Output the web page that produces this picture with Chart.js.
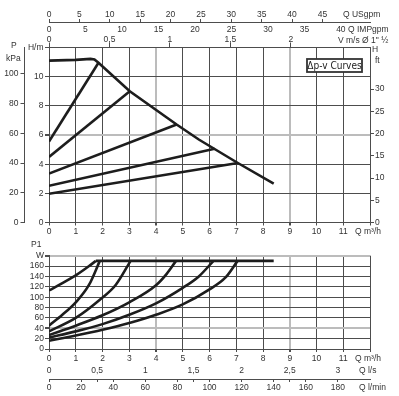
<!DOCTYPE html>
<html><head><meta charset="utf-8">
<script src="https://cdn.jsdelivr.net/npm/chart.js@4/dist/chart.umd.min.js"></script>
<style>
html,body{margin:0;padding:0;background:#fff;width:399px;height:396px;overflow:hidden}
#c1{position:absolute;left:0;top:0}
#c2{position:absolute;left:0;top:236px}
</style></head><body>
<canvas id="c1" width="399" height="240"></canvas>
<canvas id="c2" width="399" height="160"></canvas>
<script>
// ---------- tick labels ----------
const qTicks = [0,1,2,3,4,5,6,7,8,9,10,11,12];
const hTicks = [0,2,4,6,8,10,12];
const kpaTicks = [0,20,40,60,80,100];
const ftTicks = [0,5,10,15,20,25,30];
const usgpmTicks = [0,5,10,15,20,25,30,35,40,45];
const impgpmTicks = [0,5,10,15,20,25,30,35,40];
const velTicks = [0,0.5,1,1.5,2];
const wTicks = [0,20,40,60,80,100,120,140,160,180];
const lsTicks = [0,0.5,1,1.5,2,2.5,3];
const lminTicks = [0,20,30,40,60,80,90,100,120,140,150,160,180];
const lminLabelled = [0,20,40,60,80,100,120,140,160,180];

// ---------- head curves (Q m3/h, H m) ----------
const maxCurveQ = [0, 1.0, 1.55, 1.7, 1.85, 3.02, 4.77, 5.6, 7.06, 8.4];
const maxCurveH = [11.1, 11.15, 11.22, 11.18, 10.95, 9.0, 6.72, 5.69, 4.08, 2.66];
const dpvStartH = [5.55, 4.5, 3.35, 2.52, 1.97];
const dpvEndQ   = [1.85, 3.02, 4.77, 6.19, 7.06];
const dpvEndH   = [10.95, 9.0, 6.72, 5.05, 4.08];

// ---------- power curves (Q m3/h, P1 W) ----------
const pMaxQ = [1.75, 8.4];
const pMaxW = [170, 170];
const pAQ = [0, 0.5, 1.0, 1.5, 1.75];
const pAW = [113, 127, 142, 160, 170];
const pBQ = [0, 0.5, 1.0, 1.5, 1.9];
const pBW = [45, 66, 90, 124, 170];
const pCQ = [0, 1.0, 1.9, 2.5, 3.05];
const pCW = [34, 60, 95, 124, 170];
const pDQ = [0, 1, 2, 3, 4, 4.4, 4.75];
const pDW = [27, 45, 65, 90, 123, 145, 170];
const pEQ = [0, 1, 2, 3, 4, 5, 5.6, 6.15];
const pEW = [22, 34, 48, 66, 88, 118, 140, 170];
const pFQ = [0, 1, 2, 3, 4, 5, 6, 6.6, 7.05];
const pFW = [16, 26, 37, 50, 66, 86, 115, 138, 170];

// ---------- unit conversions ----------
const qMax = 12, hMax = 12, wMax = 180;
const usgpmPerM3h = 4.40287, impgpmPerM3h = 3.66615, velPerM3h = 1/4.52;
const kpaPerM = 9.80665, ftPerM = 3.28084, lsPerM3h = 1/3.6, lminPerM3h = 1000/60;

const FONT = "'Liberation Sans', Arial, sans-serif";
Chart.defaults.font.family = FONT;
Chart.defaults.font.size = 8.5;
Chart.defaults.font.lineHeight = 1.2;
Chart.defaults.color = '#333';

const dark = '#4d4d4d', light = '#bcbcbc', ink = '#1d1d1d';
const fixTicks = vals => s => { s.ticks = vals.map(v => ({value: v})); };
const fixW = w => s => { s.width = w; };
const fixH = h => s => { s.height = h; };
const fmt = v => String(v).replace('.', ',');
const pts = (xs, ys) => xs.map((x, i) => ({x, y: ys[i]}));
const line = (data, extra) => Object.assign({data, showLine: true, pointRadius: 0, borderColor: ink, borderWidth: 2.6, fill: false, tension: 0}, extra || {});
const base = {responsive: false, animation: false, events: [], plugins: {legend: {display: false}, tooltip: {enabled: false}}};

function texts(items, box) {
  return {id: 'texts' + Math.random(), afterDraw(chart) {
    const ctx = chart.ctx; ctx.save();
    ctx.fillStyle = '#333'; ctx.textBaseline = 'middle'; ctx.textAlign = 'left';
    if (box) {
      const a = chart.chartArea;
      const r = {x: a.right - 63, y: a.top + 11.5, w: 55, h: 13};
      ctx.fillStyle = '#fff'; ctx.fillRect(r.x, r.y, r.w, r.h);
      ctx.strokeStyle = '#333'; ctx.lineWidth = 1.8; ctx.strokeRect(r.x, r.y, r.w, r.h);
      ctx.fillStyle = '#222';
      ctx.font = "10px 'Liberation Sans Narrow', 'DejaVu Sans Condensed', sans-serif";
      ctx.textAlign = 'center'; ctx.fillText(box, r.x + r.w / 2, r.y + r.h / 2 + 0.5);
      ctx.textAlign = 'left'; ctx.fillStyle = '#333';
    }
    ctx.font = '8.5px ' + FONT;
    items.forEach(t => ctx.fillText(t[0], t[1], t[2]));
    ctx.restore();
  }};
}

// ================= TOP CHART =================
const headSets = [line(pts(maxCurveQ, maxCurveH))];
dpvStartH.forEach((h0, i) => headSets.push(line(pts([0, dpvEndQ[i]], [h0, dpvEndH[i]]))));

new Chart(document.getElementById('c1'), {
  type: 'scatter',
  data: {datasets: headSets},
  options: Object.assign({}, base, {
    layout: {padding: 0},
    scales: {
      x: {type: 'linear', position: 'bottom', min: 0, max: qMax,
        afterBuildTicks: fixTicks(qTicks), afterFit: fixH(17.5),
        grid: {color: c => (c.tick && (c.tick.value === 4 || c.tick.value === 9)) ? light : dark,
               lineWidth: c => (c.tick && (c.tick.value === 4 || c.tick.value === 9)) ? 2 : 1,
               tickColor: dark, tickLength: 3},
        border: {display: true, color: dark},
        ticks: {padding: 1.4, autoSkip: false, maxRotation: 0, callback: v => v === 12 ? '' : v}},
      vel: {type: 'linear', position: 'top', weight: 0, min: 0, max: qMax * velPerM3h,
        afterBuildTicks: fixTicks(velTicks), afterFit: fixH(12.5),
        grid: {drawOnChartArea: false, tickLength: 5, color: dark},
        border: {display: false},
        ticks: {padding: -2.4, autoSkip: false, maxRotation: 0, callback: v => fmt(v)}},
      imp: {type: 'linear', position: 'top', weight: 1, min: 0, max: qMax * impgpmPerM3h,
        afterBuildTicks: fixTicks(impgpmTicks), afterFit: fixH(13),
        grid: {display: false, drawTicks: false},
        border: {display: false},
        ticks: {padding: 0, autoSkip: false, maxRotation: 0}},
      us: {type: 'linear', position: 'top', weight: 2, min: 0, max: qMax * usgpmPerM3h,
        afterBuildTicks: fixTicks(usgpmTicks), afterFit: fixH(22),
        grid: {drawOnChartArea: false, tickLength: 3, color: dark},
        border: {display: true, color: dark},
        ticks: {padding: -1.1, autoSkip: false, maxRotation: 0}},
      y: {type: 'linear', position: 'left', weight: 0, min: 0, max: hMax,
        afterBuildTicks: fixTicks(hTicks), afterFit: fixW(25),
        grid: {color: c => (c.tick && c.tick.value === 6) ? light : dark,
               lineWidth: c => (c.tick && c.tick.value === 6) ? 2 : 1,
               tickColor: dark, tickLength: 4},
        border: {display: true, color: dark},
        ticks: {padding: 1.5, autoSkip: false, callback: v => v === 12 ? 'H/m' : v}},
      kpa: {type: 'linear', position: 'left', weight: 1, min: 0, max: hMax * kpaPerM,
        afterBuildTicks: fixTicks(kpaTicks), afterFit: fixW(24),
        grid: {drawOnChartArea: false, tickLength: 3.5, color: dark},
        border: {display: true, color: dark},
        ticks: {padding: 2, autoSkip: false}},
      ft: {type: 'linear', position: 'right', min: 0, max: hMax * ftPerM,
        afterBuildTicks: fixTicks(ftTicks), afterFit: fixW(29),
        grid: {drawOnChartArea: false, tickLength: 4, color: dark},
        border: {display: true, color: dark},
        ticks: {padding: 1, autoSkip: false}}
    }
  }),
  plugins: [texts([
    ['Q USgpm', 343, 15], ['Q IMPgpm', 348, 30], ['V m/s Ø 1" ½', 338, 41],
    ['H', 372, 50], ['ft', 375, 60.5], ['P', 11, 46], ['kPa', 6, 58.5],
    ['Q m³/h', 355, 232]
  ], 'Δp-v Curves')]
});

// ================= BOTTOM CHART =================
const powerSets = [
  line(pts(pMaxQ, pMaxW)),
  line(pts(pAQ, pAW), {cubicInterpolationMode: 'monotone'}),
  line(pts(pBQ, pBW), {cubicInterpolationMode: 'monotone'}),
  line(pts(pCQ, pCW), {cubicInterpolationMode: 'monotone'}),
  line(pts(pDQ, pDW), {cubicInterpolationMode: 'monotone'}),
  line(pts(pEQ, pEW), {cubicInterpolationMode: 'monotone'}),
  line(pts(pFQ, pFW), {cubicInterpolationMode: 'monotone'})
];

new Chart(document.getElementById('c2'), {
  type: 'scatter',
  data: {datasets: powerSets},
  options: Object.assign({}, base, {
    layout: {padding: {top: 19.7, right: 29, left: 0, bottom: 0}},
    scales: {
      x: {type: 'linear', position: 'bottom', weight: 0, min: 0, max: qMax,
        afterBuildTicks: fixTicks(qTicks), afterFit: fixH(15),
        grid: {color: c => (c.tick && (c.tick.value === 4 || c.tick.value === 9)) ? light : dark,
               lineWidth: c => (c.tick && (c.tick.value === 4 || c.tick.value === 9)) ? 2 : 1,
               tickColor: dark, tickLength: 3},
        border: {display: true, color: dark},
        ticks: {padding: 1.9, autoSkip: false, maxRotation: 0, callback: v => v === 12 ? '' : v}},
      ls: {type: 'linear', position: 'bottom', weight: 1, min: 0, max: qMax * lsPerM3h,
        afterBuildTicks: fixTicks(lsTicks), afterFit: fixH(15),
        grid: {display: false, drawTicks: false}, border: {display: false},
        ticks: {padding: 1.9, autoSkip: false, maxRotation: 0, callback: v => fmt(v)}},
      lmin: {type: 'linear', position: 'bottom', weight: 2, min: 0, max: qMax * lminPerM3h,
        afterBuildTicks: fixTicks(lminTicks), afterFit: fixH(17),
        grid: {drawOnChartArea: false, tickLength: 3, color: dark},
        border: {display: true, color: dark},
        ticks: {padding: 0.9, autoSkip: false, maxRotation: 0, callback: v => lminLabelled.includes(v) ? v : ''}},
      y: {type: 'linear', position: 'left', min: 0, max: wMax,
        afterBuildTicks: fixTicks(wTicks), afterFit: fixW(49),
        grid: {color: c => (c.tick && (c.tick.value === 40 || c.tick.value === 180)) ? light : dark,
               lineWidth: c => (c.tick && (c.tick.value === 40 || c.tick.value === 180)) ? 2 : 1,
               tickColor: dark, tickLength: 4},
        border: {display: true, color: dark},
        ticks: {padding: 1, autoSkip: false, callback: v => v === 180 ? 'W' : v}}
    }
  }),
  plugins: [texts([
    ['P1', 31, 9], ['Q m³/h', 355, 123], ['Q l/s', 359, 135], ['Q l/min', 359, 152]
  ])]
});
</script>
</body></html>
